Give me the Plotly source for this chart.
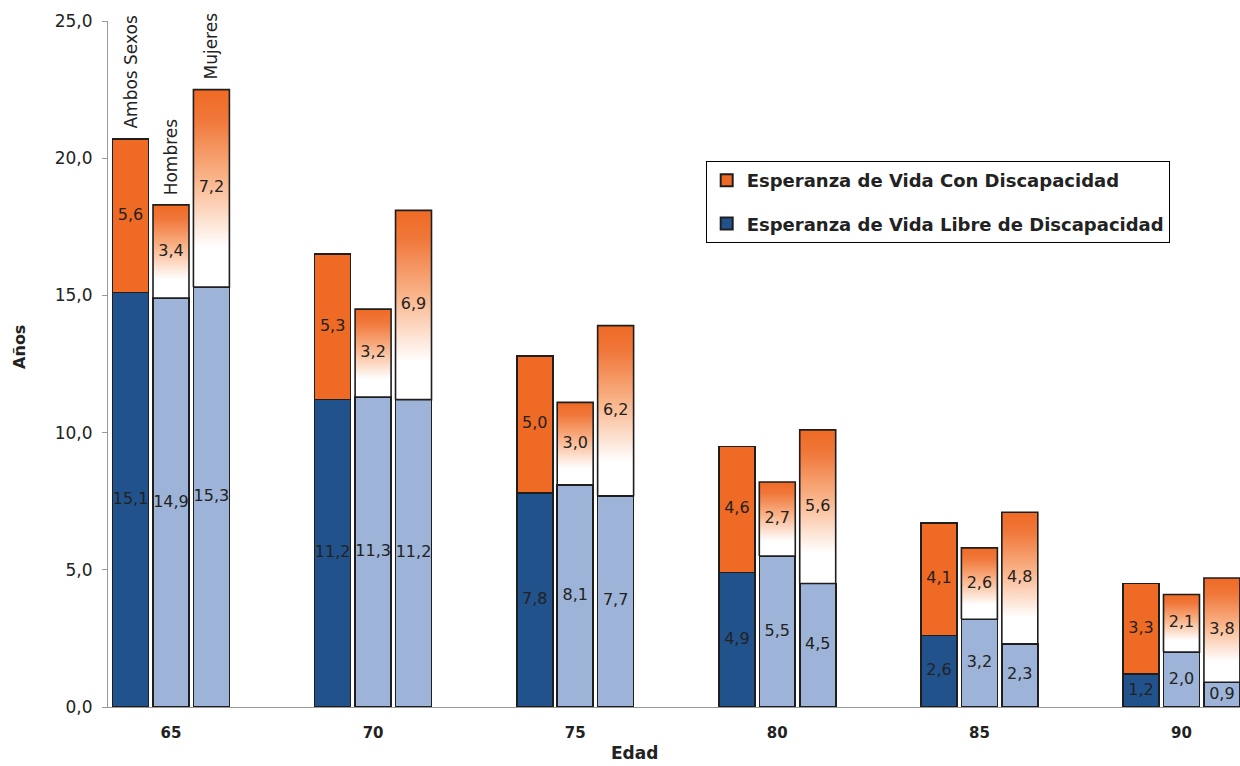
import plotly.graph_objects as go

# ---- data ----
ages = ["65", "70", "75", "80", "85", "90"]
sexes = ["Ambos Sexos", "Hombres", "Mujeres"]
libre_ambos = [15.1, 11.2, 7.8, 4.9, 2.6, 1.2]
libre_hombres = [14.9, 11.3, 8.1, 5.5, 3.2, 2.0]
libre_mujeres = [15.3, 11.2, 7.7, 4.5, 2.3, 0.9]
con_ambos = [5.6, 5.3, 5.0, 4.6, 4.1, 3.3]
con_hombres = [3.4, 3.2, 3.0, 2.7, 2.6, 2.1]
con_mujeres = [7.2, 6.9, 6.2, 5.6, 4.8, 3.8]

# ---- style ----
ORANGE = "#EF6A24"
DARK_BLUE = "#21528C"
LIGHT_BLUE = "#9DB3D7"
OUTLINE = "#1e1e1e"
FONT = "DejaVu Sans"
TXT = "#222222"
offsets = [-0.2, 0.0, 0.2]
bar_w = 0.178
grad_scale = [[0, "#ffffff"], [0.2, "#ffffff"], [0.55, "#F9B48A"],
              [0.85, "#F0773A"], [1, ORANGE]]

libre = [libre_ambos, libre_hombres, libre_mujeres]
con = [con_ambos, con_hombres, con_mujeres]

def fmt(v):
    return f"{v:.1f}".replace(".", ",")

fig = go.Figure()
idx = list(range(len(ages)))

# bottom segments (bars)
for s in range(3):
    xs = [i + offsets[s] for i in idx]
    fig.add_trace(go.Bar(
        x=xs, y=libre[s], width=bar_w,
        marker=dict(color=DARK_BLUE if s == 0 else LIGHT_BLUE,
                    line=dict(color=OUTLINE, width=1.6)),
        name="Esperanza de Vida Libre de Discapacidad",
        showlegend=(s == 0), legendgroup="libre", legendrank=2,
        hoverinfo="skip"))

# top segment for Ambos Sexos (solid orange bars)
fig.add_trace(go.Bar(
    x=[i + offsets[0] for i in idx], y=con_ambos, width=bar_w,
    marker=dict(color=ORANGE, line=dict(color=OUTLINE, width=1.6)),
    name="Esperanza de Vida Con Discapacidad",
    showlegend=True, legendgroup="con", legendrank=1, hoverinfo="skip"))

# top segments for Hombres / Mujeres (gradient filled rectangles)
for s in (1, 2):
    for i in idx:
        xc = i + offsets[s]
        b = libre[s][i]
        t = b + con[s][i]
        fig.add_trace(go.Scatter(
            x=[xc - bar_w / 2, xc + bar_w / 2, xc + bar_w / 2, xc - bar_w / 2, xc - bar_w / 2],
            y=[b, b, t, t, b],
            mode="lines", fill="toself",
            fillgradient=dict(type="vertical", colorscale=grad_scale),
            line=dict(color=OUTLINE, width=1.6),
            showlegend=False, hoverinfo="skip"))

# value labels
for s in range(3):
    xs = [i + offsets[s] for i in idx]
    fig.add_trace(go.Scatter(
        x=xs, y=[v / 2 for v in libre[s]], mode="text",
        text=[fmt(v) for v in libre[s]],
        textfont=dict(family=FONT, size=16, color=TXT),
        showlegend=False, hoverinfo="skip", cliponaxis=False))
    fig.add_trace(go.Scatter(
        x=xs, y=[libre[s][i] + con[s][i] / 2 for i in idx], mode="text",
        text=[fmt(v) for v in con[s]],
        textfont=dict(family=FONT, size=16, color=TXT),
        showlegend=False, hoverinfo="skip", cliponaxis=False))

# series names above first group
for s in range(3):
    fig.add_annotation(
        x=0 + offsets[s], y=libre[s][0] + con[s][0], xref="x", yref="y",
        text=sexes[s], textangle=-90, showarrow=False,
        xanchor="center", yanchor="bottom", yshift=8,
        font=dict(family=FONT, size=17, color=TXT))

# axis titles
fig.add_annotation(x=-0.0777, y=0.525, xref="paper", yref="paper",
                   xanchor="center", yanchor="middle",
                   text="<b>Años</b>", textangle=-90, showarrow=False,
                   font=dict(family=FONT, size=16, color=TXT))
fig.add_annotation(x=0.4655, y=-0.067, xref="paper", yref="paper",
                   xanchor="center", yanchor="middle",
                   text="<b>Edad</b>", showarrow=False,
                   font=dict(family=FONT, size=17, color=TXT))

fig.update_layout(
    width=1240, height=766,
    margin=dict(l=108, r=0, t=21, b=59),
    paper_bgcolor="white", plot_bgcolor="white",
    barmode="stack", separators=",.",
    font=dict(family=FONT, color=TXT),
    legend=dict(x=0.528, y=0.796, xanchor="left", yanchor="top",
                bordercolor="#000000", borderwidth=1, bgcolor="white",
                font=dict(family=FONT, size=18, color=TXT, weight="bold"),
                traceorder="grouped", tracegroupgap=17,
                itemsizing="constant"),
    xaxis=dict(range=[-0.3117, 5.2895], tickvals=idx, ticktext=ages,
               showline=True, linecolor="#999999", linewidth=1,
               showgrid=False, zeroline=False, ticks="",
               tickfont=dict(family=FONT, size=15, color=TXT, weight="bold"),
               ticklabelstandoff=12),
    yaxis=dict(range=[0, 25], dtick=5, tickformat=".1f",
               showline=True, linecolor="#999999", linewidth=1,
               ticks="outside", ticklen=5, tickcolor="#999999",
               showgrid=False, zeroline=False,
               tickfont=dict(family=FONT, size=17, color=TXT),
               ticklabelstandoff=6),
)

fig.write_html("out.html",
               config={"displayModeBar": False},
               post_script="document.body.style.margin='0px';"
                           "document.body.style.overflow='hidden';")
